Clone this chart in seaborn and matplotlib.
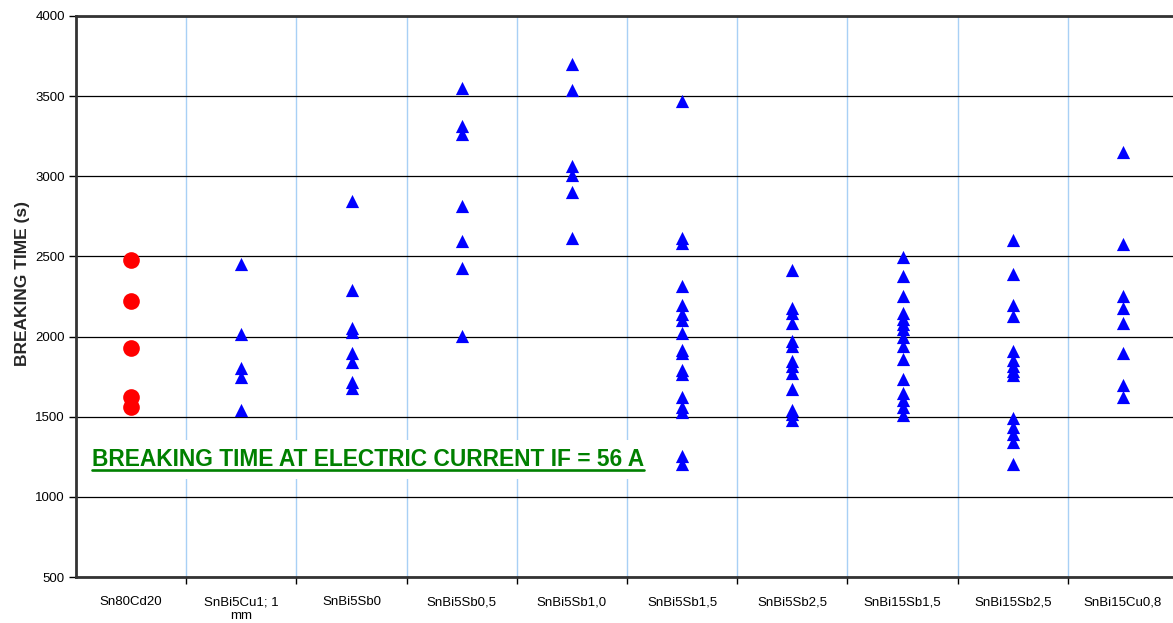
import numpy as np
import pandas as pd
import matplotlib
matplotlib.use('Agg')
import matplotlib.pyplot as plt
import seaborn as sns
from matplotlib.lines import Line2D
from matplotlib.transforms import IdentityTransform

# Alloys (x categories) and tick labels
alloys = ['Sn80Cd20', 'SnBi5Cu1; 1 mm', 'SnBi5Sb0', 'SnBi5Sb0,5', 'SnBi5Sb1,0',
          'SnBi5Sb1,5', 'SnBi5Sb2,5', 'SnBi15Sb1,5', 'SnBi15Sb2,5', 'SnBi15Cu0,8']
tick_labels = ['Sn80Cd20', 'SnBi5Cu1; 1\nmm', 'SnBi5Sb0', 'SnBi5Sb0,5', 'SnBi5Sb1,0',
               'SnBi5Sb1,5', 'SnBi5Sb2,5', 'SnBi15Sb1,5', 'SnBi15Sb2,5', 'SnBi15Cu0,8']

# Breaking times (s)
sn80cd20 = [2475, 2223, 1927, 1625, 1562]
snbi5cu1 = [2452, 2016, 1804, 1747, 1539]
snbi5sb0 = [2846, 2289, 2054, 2029, 1896, 1839, 1716, 1677]
snbi5sb05 = [3550, 3313, 3262, 2815, 2594, 2425, 2004]
snbi5sb10 = [3700, 3541, 3067, 3008, 2904, 2614]
snbi5sb15 = [3469, 2612, 2583, 2313, 2196, 2140, 2104, 2025, 1917, 1900,
             1792, 1767, 1625, 1562, 1531, 1255, 1207]
snbi5sb25 = [2417, 2181, 2146, 2087, 1973, 1941, 1848, 1817, 1775, 1671,
             1545, 1514, 1479]
snbi15sb15 = [2494, 2379, 2254, 2150, 2108, 2077, 2046, 1995, 1941, 1862,
              1737, 1650, 1604, 1562, 1510]
snbi15sb25 = [2604, 2390, 2196, 2129, 1909, 1856, 1815, 1784, 1763, 1490,
              1437, 1395, 1343, 1203]
snbi15cu08 = [3152, 2575, 2254, 2181, 2087, 1896, 1698, 1625]

series = [sn80cd20, snbi5cu1, snbi5sb0, snbi5sb05, snbi5sb10,
          snbi5sb15, snbi5sb25, snbi15sb15, snbi15sb25, snbi15cu08]

df = pd.DataFrame([(a, v) for a, vals in zip(alloys, series) for v in vals],
                  columns=['alloy', 'time'])

sns.set_style('white')
plt.rcParams['font.family'] = ['Liberation Sans', 'DejaVu Sans']

W, H = 1173, 623
fig = plt.figure(figsize=(W / 100, H / 100), dpi=100)
ax = fig.add_axes([76 / W, 46 / H, 1102 / W, 561 / H])

ref = df[df['alloy'] == 'Sn80Cd20']
rest = df[df['alloy'] != 'Sn80Cd20']
sns.stripplot(data=ref, x='alloy', y='time', order=alloys, jitter=False,
              marker='o', color='#FF0000', size=12, linewidth=0, ax=ax, zorder=4)
sns.stripplot(data=rest, x='alloy', y='time', order=alloys, jitter=False,
              marker='^', color='#0000FF', size=9.5, linewidth=0, ax=ax, zorder=4)

ax.set_xlim(-0.5, 9.5)
ax.set_ylim(500, 4000)
ax.set_yticks(range(500, 4001, 500))
ax.set_xticks(range(len(alloys)))
ax.set_xticklabels(tick_labels)
ax.set_xticks(np.arange(0.5, 9, 1), minor=True)

ax.set_axisbelow(True)
ax.yaxis.grid(True, color='black', lw=0.9)
ax.xaxis.grid(False, which='major')
ax.xaxis.grid(True, which='minor', color='#A8D0F5', lw=1)

ax.tick_params(axis='x', which='major', length=0, pad=14, labelsize=9.5, colors='black')
ax.tick_params(axis='x', which='minor', length=5, width=1, color='black',
               direction='out', bottom=True)
ax.tick_params(axis='y', length=5, width=1, direction='out', left=True,
               labelsize=9.5, colors='black', pad=3)

for side in ['left', 'bottom', 'top']:
    ax.spines[side].set_color('#333333')
    ax.spines[side].set_linewidth(2)
ax.spines['right'].set_visible(False)

ax.set_xlabel('')
ax.set_ylabel('BREAKING TIME (s)', fontweight='bold', fontsize=12.5)
ax.yaxis.set_label_coords((30 - 76) / 1102, (577 - 283) / 561)

# green underlined note
base_y = (577 - 466) / 561
t = ax.text(16 / 1102, base_y, 'BREAKING TIME AT ELECTRIC CURRENT IF = 56 A',
            transform=ax.transAxes, color='#008000', fontsize=16.4, fontweight='bold',
            ha='left', va='baseline', zorder=3,
            bbox=dict(facecolor='white', edgecolor='none', pad=6))
fig.canvas.draw()
bb = t.get_window_extent(fig.canvas.get_renderer())
yb = ax.transAxes.transform((0, base_y))[1] - 3.5
fig.add_artist(Line2D([bb.x0, bb.x1], [yb, yb], transform=IdentityTransform(),
                      color='#008000', lw=1.9, zorder=5))

fig.savefig('out.png', dpi=100)
